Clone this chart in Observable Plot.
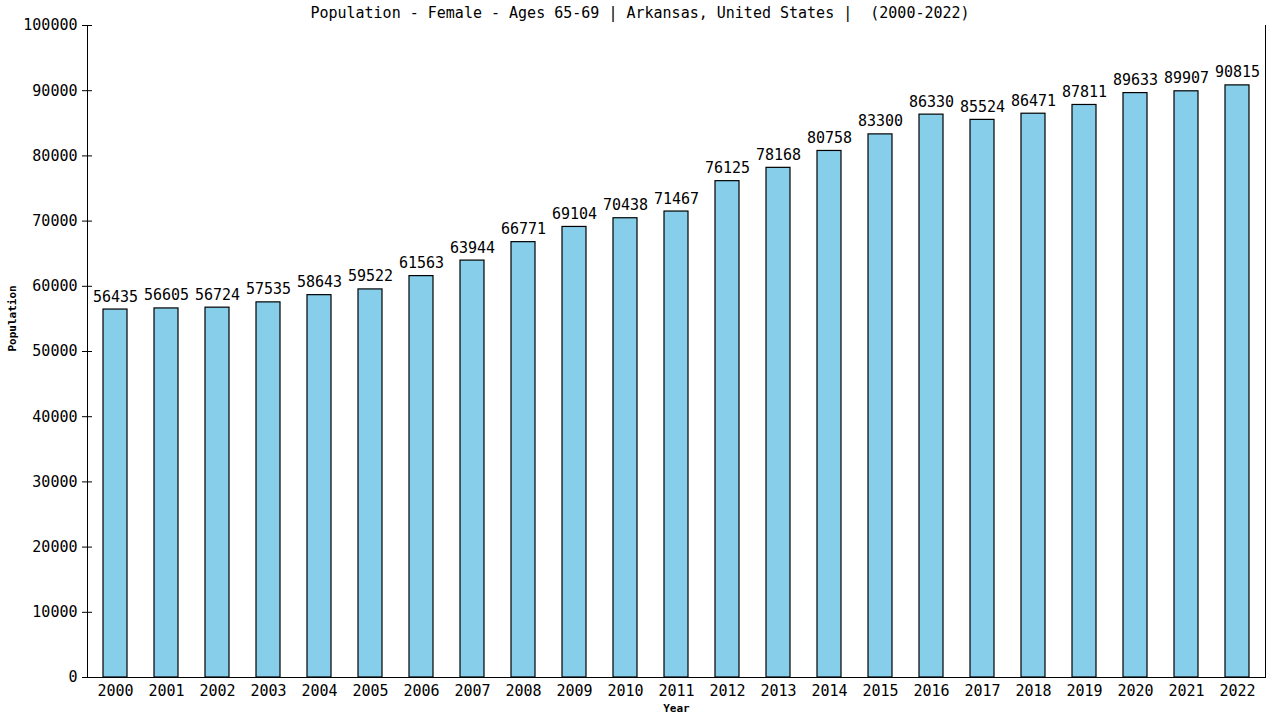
<!DOCTYPE html>
<html>
<head>
<meta charset="utf-8">
<script src="https://cdn.jsdelivr.net/npm/d3@7"></script>
<script src="https://cdn.jsdelivr.net/npm/@observablehq/plot@0.6"></script>
<style>
  html, body { margin: 0; padding: 0; background: #fff; }
  #wrap { position: relative; width: 1280px; height: 720px; }
  #title { position: absolute; left: 0; top: 4px; width: 1280px; text-align: center;
    font-family: "DejaVu Sans Mono", monospace; font-size: 15px; line-height: 18px; color: #000; white-space: pre; }
</style>
</head>
<body>
<div id="wrap"><div id="title"></div></div>
<script>
const titleText = "Population - Female - Ages 65-69 | Arkansas, United States |  (2000-2022)";
const years = ["2000","2001","2002","2003","2004","2005","2006","2007","2008","2009","2010","2011","2012","2013","2014","2015","2016","2017","2018","2019","2020","2021","2022"];
const population = [56435,56605,56724,57535,58643,59522,61563,63944,66771,69104,70438,71467,76125,78168,80758,83300,86330,85524,86471,87811,89633,89907,90815];
const yTicks = [0,10000,20000,30000,40000,50000,60000,70000,80000,90000,100000];
const xLabel = "Year";
const yLabel = "Population";

const data = years.map((y, i) => ({year: y, value: population[i]}));
const font = "DejaVu Sans Mono, monospace";

document.getElementById("title").textContent = titleText;

const chart = Plot.plot({
  width: 1280,
  height: 720,
  marginLeft: 87,
  marginRight: 15,
  marginTop: 25,
  marginBottom: 43,
  style: {fontFamily: font, fontSize: "15px", color: "#000", background: "transparent"},
  x: {type: "band", domain: years, paddingInner: 0.53, paddingOuter: 0.25, label: null},
  y: {domain: [0, 100000], label: null},
  marks: [
    Plot.barY(data, {x: "year", y: "value", fill: "#87CEEB", stroke: "#000", strokeWidth: 1.2}),
    Plot.text(data, {x: "year", y: "value", text: d => String(d.value), lineAnchor: "bottom", dy: -8, fontSize: 15, fill: "#000"}),
    Plot.axisY({ticks: yTicks, tickSize: 5, tickPadding: 5, tickFormat: d => String(d), fontSize: 15, label: null}),
    Plot.axisY({ticks: yTicks, tickSize: -5, tickFormat: () => "", label: null}),
    Plot.axisX({tickSize: 0, tickPadding: 8, fontSize: 15, label: null}),
    Plot.frame({anchor: "left", stroke: "#000"}),
    Plot.frame({anchor: "right", stroke: "#000"}),
    Plot.frame({anchor: "bottom", stroke: "#000"}),
    Plot.text([xLabel], {frameAnchor: "bottom", dy: 34, fontSize: 11, fontWeight: "bold", fill: "#000"}),
    Plot.text([yLabel], {frameAnchor: "left", dx: -75, rotate: -90, fontSize: 11, fontWeight: "bold", fill: "#000"})
  ]
});
document.getElementById("wrap").appendChild(chart);
</script>
</body>
</html>
